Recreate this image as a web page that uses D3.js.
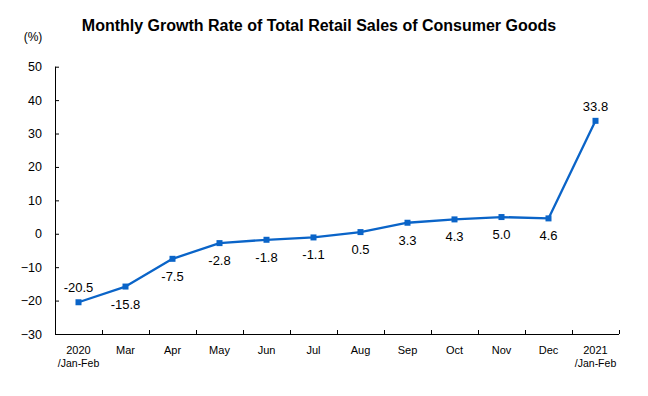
<!DOCTYPE html>
<html>
<head>
<meta charset="utf-8">
<script src="https://cdn.jsdelivr.net/npm/d3@7.9.0/dist/d3.min.js"></script>
<style>
  body { margin: 0; background: #fff; }
  svg { font-family: "Liberation Sans", Arial, sans-serif; }
</style>
</head>
<body>
<div id="chart"></div>
<script>
const width = 648;
const height = 396;

// data
const categories = ["2020/Jan-Feb", "Mar", "Apr", "May", "Jun", "Jul", "Aug", "Sep", "Oct", "Nov", "Dec", "2021/Jan-Feb"];
const growth = [-20.5, -15.8, -7.5, -2.8, -1.8, -1.1, 0.5, 3.3, 4.3, 5.0, 4.6, 33.8];
const labelPos = ["above", "below", "below", "below", "below", "below", "below", "below", "below", "below", "below", "above"];
const yTicks = [50, 40, 30, 20, 10, 0, -10, -20, -30];

const plot = { left: 55, right: 619, top: 66.7, bottom: 334 };
const lineColor = "#0a64c8";

const x = d3.scaleBand().domain(categories).range([plot.left, plot.right]);
const y = d3.scaleLinear().domain([-30, 50]).range([plot.bottom, plot.top]);

const svg = d3.select("#chart").append("svg")
  .attr("width", width)
  .attr("height", height);

svg.append("text")
  .attr("x", 319)
  .attr("y", 31)
  .attr("text-anchor", "middle")
  .attr("font-size", 16)
  .attr("font-weight", "bold")
  .text("Monthly Growth Rate of Total Retail Sales of Consumer Goods");

svg.append("text")
  .attr("x", 33)
  .attr("y", 41)
  .attr("text-anchor", "middle")
  .attr("font-size", 12)
  .text("(%)");

// y axis
const yAxis = svg.append("g")
  .attr("transform", `translate(${plot.left},0)`)
  .call(d3.axisRight(y).tickValues(yTicks).tickSize(4).tickFormat(d3.format("d")));
yAxis.select(".domain").attr("d", `M0.5,${plot.top}V${plot.bottom}`).attr("stroke", "#000");
yAxis.selectAll(".tick text")
  .attr("x", -13)
  .attr("text-anchor", "end")
  .attr("font-size", 12.5)
  .attr("fill", "#000");

// x axis
const xAxis = svg.append("g")
  .attr("transform", `translate(0,${plot.bottom})`);
xAxis.append("line")
  .attr("x1", plot.left).attr("x2", plot.right)
  .attr("y1", 0.5).attr("y2", 0.5)
  .attr("stroke", "#000");
const bounds = categories.map((c) => x(c) + x.bandwidth());
xAxis.selectAll("line.tick")
  .data(bounds)
  .join("line")
  .attr("class", "tick")
  .attr("x1", (d) => Math.round(d) + 0.5)
  .attr("x2", (d) => Math.round(d) + 0.5)
  .attr("y1", 0)
  .attr("y2", -4)
  .attr("stroke", "#000");

const xLabels = xAxis.selectAll("text")
  .data(categories)
  .join("text")
  .attr("x", (d) => x(d) + x.bandwidth() / 2)
  .attr("y", 20)
  .attr("text-anchor", "middle")
  .attr("font-size", 11)
  .attr("font-family", "'Liberation Sans Narrow', 'Liberation Sans', sans-serif");
xLabels.each(function (d) {
  const parts = d.split("/");
  const t = d3.select(this);
  t.append("tspan").text(parts[0]);
  if (parts[1]) {
    t.append("tspan")
      .attr("x", x(d) + x.bandwidth() / 2)
      .attr("dy", 13)
      .attr("font-size", 10.5)
      .text("/" + parts[1]);
  }
});

// line
const line = d3.line()
  .x((d, i) => x(categories[i]) + x.bandwidth() / 2)
  .y((d) => y(d));

svg.append("path")
  .datum(growth)
  .attr("fill", "none")
  .attr("stroke", lineColor)
  .attr("stroke-width", 2.3)
  .attr("stroke-linejoin", "round")
  .attr("d", line);

svg.append("g")
  .selectAll("rect")
  .data(growth)
  .join("rect")
  .attr("x", (d, i) => x(categories[i]) + x.bandwidth() / 2 - 3)
  .attr("y", (d) => y(d) - 3)
  .attr("width", 6)
  .attr("height", 6)
  .attr("fill", lineColor);

svg.append("g")
  .selectAll("text")
  .data(growth)
  .join("text")
  .attr("x", (d, i) => x(categories[i]) + x.bandwidth() / 2)
  .attr("y", (d, i) => labelPos[i] === "above" ? y(d) - 10 : y(d) + 22)
  .attr("text-anchor", "middle")
  .attr("font-size", 13)
  .text((d) => d.toFixed(1));
</script>
</body>
</html>
